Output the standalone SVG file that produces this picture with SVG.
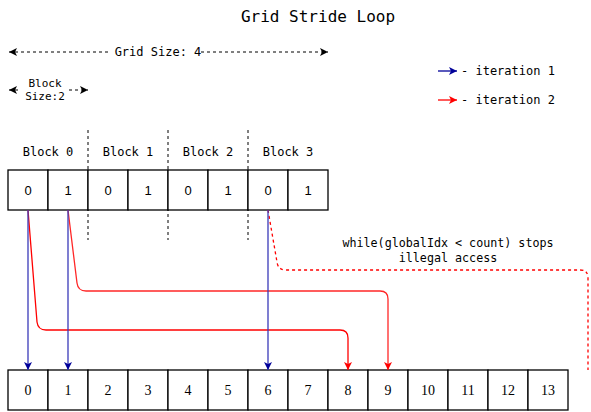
<svg xmlns="http://www.w3.org/2000/svg" width="591" height="412" viewBox="0 0 591 412">
<style>
.mono{font-family:"DejaVu Sans Mono","Liberation Mono",monospace;fill:#000}
.cell{fill:#fff;stroke:#000;stroke-width:1.3}
.top{font-family:"Liberation Sans",Arial,sans-serif;font-size:13px;fill:#000;text-anchor:middle;dominant-baseline:central}
.bot{font-family:"Liberation Serif","Times New Roman",serif;font-size:14px;fill:#000;text-anchor:middle;dominant-baseline:central}
.sep{stroke:#000;stroke-width:1;stroke-dasharray:3,3}
.blue{fill:none;stroke:#3a3ab8;stroke-width:1.3}
.red{fill:none;stroke:#ff0000;stroke-width:1.3}
.dim{fill:none;stroke:#000;stroke-width:1;stroke-dasharray:3,3}
</style>
<defs>
<marker id="ab" viewBox="0 0 10 10" refX="10" refY="5" markerWidth="8" markerHeight="8" markerUnits="userSpaceOnUse" orient="auto"><path d="M0,0 L10,5 L0,10 L2.5,5 Z" fill="#000099"/></marker>
<marker id="ar" viewBox="0 0 10 10" refX="10" refY="5" markerWidth="8" markerHeight="8" markerUnits="userSpaceOnUse" orient="auto"><path d="M0,0 L10,5 L0,10 L2.5,5 Z" fill="#ff0000"/></marker>
<marker id="ak" viewBox="0 0 10 10" refX="10" refY="5" markerWidth="8" markerHeight="8" markerUnits="userSpaceOnUse" orient="auto-start-reverse"><path d="M0,0 L10,5 L0,10 L2.5,5 Z" fill="#000"/></marker>
</defs>
<rect width="591" height="412" fill="#fff"/>
<g id="title"><text class="mono" x="318" y="22" font-size="16" text-anchor="middle">Grid Stride Loop</text></g>
<g id="grid-size">
<line class="dim" x1="9" y1="52" x2="328" y2="52" marker-start="url(#ak)" marker-end="url(#ak)"/>
<rect x="108" y="44" width="93" height="16" fill="#fff"/>
<text class="mono" x="158" y="52" font-size="12" text-anchor="middle" dominant-baseline="central">Grid Size: 4</text>
</g>
<g id="block-size">
<line class="dim" x1="9" y1="90" x2="88" y2="90" marker-start="url(#ak)" marker-end="url(#ak)"/>
<rect x="21" y="76" width="48" height="26" fill="#fff"/>
<text class="mono" x="45" y="83" font-size="11" text-anchor="middle" dominant-baseline="central">Block</text>
<text class="mono" x="45" y="96" font-size="11" text-anchor="middle" dominant-baseline="central">Size:2</text>
</g>
<g id="legend">
<line x1="438" y1="71" x2="457" y2="71" stroke="#000099" stroke-width="1.3" marker-end="url(#ab)"/>
<text class="mono" x="461" y="71" font-size="12" dominant-baseline="central">- iteration 1</text>
<line x1="438" y1="100" x2="457" y2="100" stroke="#ff0000" stroke-width="1.3" marker-end="url(#ar)"/>
<text class="mono" x="461" y="100" font-size="12" dominant-baseline="central">- iteration 2</text>
</g>
<g id="block-labels">
<text class="mono" x="48" y="152" font-size="12" text-anchor="middle" dominant-baseline="central">Block 0</text>
<text class="mono" x="128" y="152" font-size="12" text-anchor="middle" dominant-baseline="central">Block 1</text>
<text class="mono" x="208" y="152" font-size="12" text-anchor="middle" dominant-baseline="central">Block 2</text>
<text class="mono" x="288" y="152" font-size="12" text-anchor="middle" dominant-baseline="central">Block 3</text>
</g>
<g id="separators">
<line class="sep" x1="88" y1="130" x2="88" y2="240"/>
<line class="sep" x1="168" y1="130" x2="168" y2="240"/>
<line class="sep" x1="248" y1="130" x2="248" y2="240"/>
</g>
<g id="threads">
<rect class="cell" x="8" y="170" width="40" height="40"/><text class="top" x="28" y="190">0</text>
<rect class="cell" x="48" y="170" width="40" height="40"/><text class="top" x="68" y="190">1</text>
<rect class="cell" x="88" y="170" width="40" height="40"/><text class="top" x="108" y="190">0</text>
<rect class="cell" x="128" y="170" width="40" height="40"/><text class="top" x="148" y="190">1</text>
<rect class="cell" x="168" y="170" width="40" height="40"/><text class="top" x="188" y="190">0</text>
<rect class="cell" x="208" y="170" width="40" height="40"/><text class="top" x="228" y="190">1</text>
<rect class="cell" x="248" y="170" width="40" height="40"/><text class="top" x="268" y="190">0</text>
<rect class="cell" x="288" y="170" width="40" height="40"/><text class="top" x="308" y="190">1</text>
</g>
<g id="data">
<rect class="cell" x="8" y="370" width="40" height="40"/><text class="bot" x="28" y="390">0</text>
<rect class="cell" x="48" y="370" width="40" height="40"/><text class="bot" x="68" y="390">1</text>
<rect class="cell" x="88" y="370" width="40" height="40"/><text class="bot" x="108" y="390">2</text>
<rect class="cell" x="128" y="370" width="40" height="40"/><text class="bot" x="148" y="390">3</text>
<rect class="cell" x="168" y="370" width="40" height="40"/><text class="bot" x="188" y="390">4</text>
<rect class="cell" x="208" y="370" width="40" height="40"/><text class="bot" x="228" y="390">5</text>
<rect class="cell" x="248" y="370" width="40" height="40"/><text class="bot" x="268" y="390">6</text>
<rect class="cell" x="288" y="370" width="40" height="40"/><text class="bot" x="308" y="390">7</text>
<rect class="cell" x="328" y="370" width="40" height="40"/><text class="bot" x="348" y="390">8</text>
<rect class="cell" x="368" y="370" width="40" height="40"/><text class="bot" x="388" y="390">9</text>
<rect class="cell" x="408" y="370" width="40" height="40"/><text class="bot" x="428" y="390">10</text>
<rect class="cell" x="448" y="370" width="40" height="40"/><text class="bot" x="468" y="390">11</text>
<rect class="cell" x="488" y="370" width="40" height="40"/><text class="bot" x="508" y="390">12</text>
<rect class="cell" x="528" y="370" width="40" height="40"/><text class="bot" x="548" y="390">13</text>
</g>
<g id="connectors">
<path class="red" d="M28,210 L37,322 Q38,330 46,330 L340,330 Q348,330 348,338 L348,370" marker-end="url(#ar)"/>
<path class="red" stroke-opacity="0.85" d="M68,210 L77,283 Q78,291 86,291 L380,291 Q388,291 388,299 L388,370" marker-end="url(#ar)"/>
<path class="red" stroke-dasharray="3,3" d="M268,210 L277,262 Q278,270 286,270 L580,270 Q588,270 588,278 L588,370"/>
<line class="blue" x1="28" y1="210" x2="28" y2="370" marker-end="url(#ab)"/>
<line class="blue" x1="68" y1="210" x2="68" y2="370" marker-end="url(#ab)"/>
<line class="blue" x1="268" y1="210" x2="268" y2="370" marker-end="url(#ab)"/>
</g>
<g id="note">
<text class="mono" x="448" y="243" font-size="11.7" text-anchor="middle" dominant-baseline="central">while(globalIdx &lt; count) stops</text>
<text class="mono" x="448" y="258" font-size="11.7" text-anchor="middle" dominant-baseline="central">illegal access</text>
</g>
</svg>
